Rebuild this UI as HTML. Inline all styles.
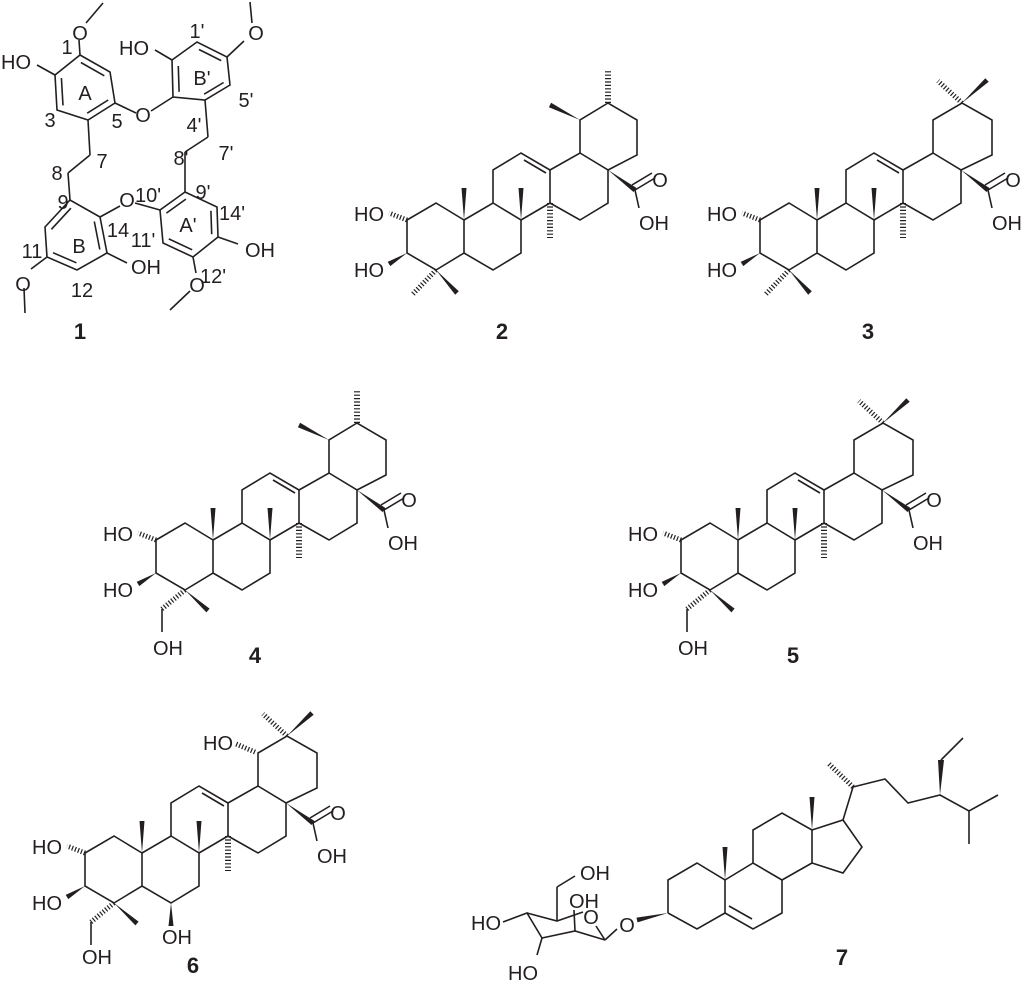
<!DOCTYPE html>
<html><head><meta charset="utf-8"><style>
html,body{margin:0;padding:0;background:#fff;}
svg{display:block;}
text{font-family:"Liberation Sans",sans-serif;fill:#231f20;}
.a{font-size:20px;text-anchor:middle;}
.n{font-size:22px;font-weight:bold;text-anchor:middle;}
</style></head><body>
<svg width="1029" height="982" viewBox="0 0 1029 982" xmlns="http://www.w3.org/2000/svg">
<defs>
<g id="core" stroke="#231f20" stroke-width="1.6" fill="none">
<polyline points="464,220 436,203 407,220 407,253 436,270 464,253 464,220 493,203 521,220 521,253 493,270 464,253"/>
<polyline points="493,203 493,170 521,153 550,170 550,203 521,220"/>
<line x1="524" y1="160" x2="546" y2="173"/>
<polyline points="550,170 580,153 608,170 608,203 580,220 550,203"/>
<line x1="407" y1="220" x2="389" y2="213" stroke-width="5" stroke-dasharray="1.2 2"/>
<line x1="550" y1="203" x2="550" y2="238" stroke-width="6" stroke-dasharray="1.2 2.2"/>
<line x1="635" y1="190" x2="655" y2="178"/>
<line x1="632" y1="185" x2="652" y2="173"/>
<line x1="635" y1="190" x2="639" y2="208"/>
<g fill="#231f20" stroke="none">
<polygon points="464,220 461.5,188 466.5,188"/>
<polygon points="521,220 518.5,188 523.5,188"/>
<polygon points="407,253 387.7,261.9 390.3,266.1"/>
<polygon points="608,170 633.5,192 636.5,188"/>
</g>
</g>
<g id="eU" stroke="#231f20" stroke-width="1.6" fill="none">
<polyline points="580,153 580,120 608,103 637,120 637,155 608,170"/>
<line x1="608" y1="103" x2="608" y2="71" stroke-width="6" stroke-dasharray="1.2 2.2"/>
<polygon fill="#231f20" stroke="none" points="580,120 551.1,102.8 548.9,107.2"/>
</g>
<g id="eO" stroke="#231f20" stroke-width="1.6" fill="none">
<polyline points="580,153 580,120 609,103 639,120 639,155 608,170"/>
<line x1="609" y1="103" x2="585" y2="81" stroke-width="5" stroke-dasharray="1.2 2"/>
<polygon fill="#231f20" stroke="none" points="609,103 635.7,81.8 632.3,78.2"/>
</g>
<g id="c4me" stroke="#231f20" stroke-width="1.6" fill="none">
<line x1="436" y1="270" x2="412" y2="295" stroke-width="5" stroke-dasharray="1.2 2"/>
<polygon fill="#231f20" stroke="none" points="436,270 458.8,291.3 455.2,294.7"/>
</g>
<g id="c4oh" stroke="#231f20" stroke-width="1.6" fill="none">
<line x1="436" y1="270" x2="413" y2="289" stroke-width="5" stroke-dasharray="1.2 2"/>
<line x1="413" y1="289" x2="413" y2="312"/>
<polygon fill="#231f20" stroke="none" points="436,270 460.6,288.6 457.4,292.4"/>
</g>
</defs>

<!-- Compound 1 -->
<g stroke="#231f20" stroke-width="1.6" fill="none">
<polygon points="80,55 110,72 115,103 88,120 57,110 55,75"/>
<line x1="80.9" y1="62.5" x2="104.3" y2="75.8"/><line x1="108.2" y1="100" x2="87.2" y2="113.2"/><line x1="63" y1="105.4" x2="61.4" y2="78.1"/>
<polygon points="173,97 172,60 197,42 227,57 230,85 205,100"/>
<line x1="179.1" y1="91.8" x2="178.3" y2="66"/><line x1="199" y1="49.5" x2="221.2" y2="60.6"/><line x1="223.6" y1="82.5" x2="204.1" y2="94.2"/>
<polygon points="185,192 217,207 218,237 193,257 163,243 160,210"/>
<line x1="166.4" y1="213.1" x2="185.9" y2="199.1"/><line x1="210.9" y1="210.8" x2="211.7" y2="234.2"/><line x1="192.2" y1="249.8" x2="168.8" y2="238.9"/>
<polygon points="100,217 70,200 45,227 47,257 77,270 107,253"/>
<line x1="70.9" y1="208.2" x2="51.4" y2="229.3"/><line x1="53" y1="252.7" x2="76.4" y2="262.8"/><line x1="99.8" y1="249.5" x2="94.3" y2="221.5"/>
<line x1="80" y1="55" x2="79" y2="40"/><line x1="86" y1="23" x2="103" y2="3"/>
<line x1="55" y1="75" x2="37" y2="65"/>
<line x1="115" y1="103" x2="136" y2="113"/><line x1="151" y1="111" x2="173" y2="97"/>
<line x1="172" y1="60" x2="155" y2="50"/>
<line x1="227" y1="57" x2="244" y2="41"/><line x1="252" y1="23" x2="250" y2="2"/>
<line x1="205" y1="100" x2="208" y2="137"/><line x1="208" y1="137" x2="185" y2="152"/><line x1="185" y1="152" x2="185" y2="192"/>
<line x1="88" y1="120" x2="90" y2="155"/><line x1="90" y1="155" x2="68" y2="173"/><line x1="68" y1="173" x2="70" y2="200"/>
<line x1="100" y1="217" x2="120" y2="206"/><line x1="135" y1="203" x2="160" y2="210"/>
<line x1="218" y1="237" x2="238" y2="244"/>
<line x1="107" y1="253" x2="127" y2="263"/>
<line x1="193" y1="257" x2="196" y2="273"/><line x1="190" y1="291" x2="170" y2="310"/>
<line x1="47" y1="257" x2="31" y2="269"/><line x1="24" y1="288" x2="25" y2="313"/>
</g>
<g class="a">
<text x="80" y="40">O</text>
<text x="16" y="69">HO</text>
<text x="143" y="122">O</text>
<text x="134" y="55">HO</text>
<text x="256" y="40">O</text>
<text x="127" y="207">O</text>
<text x="260" y="257">OH</text>
<text x="146" y="274">OH</text>
<text x="197" y="292">O</text>
<text x="23" y="291">O</text>
<text x="67" y="54">1</text><text x="85" y="100">A</text><text x="50" y="127">3</text><text x="117" y="128">5</text>
<text x="102" y="168">7</text><text x="57" y="180">8</text><text x="63" y="209">9</text><text x="79" y="253">B</text>
<text x="118" y="237">14</text><text x="32" y="258">11</text><text x="82" y="297">12</text>
<text x="197" y="38">1'</text><text x="202" y="85">B'</text><text x="246" y="107">5'</text><text x="194" y="132">4'</text>
<text x="226" y="160">7'</text><text x="181" y="165">8'</text><text x="203" y="199">9'</text><text x="148" y="202">10'</text>
<text x="232" y="220">14'</text><text x="188" y="232">A'</text><text x="143" y="247">11'</text><text x="213" y="283">12'</text>
</g>
<text class="n" x="80" y="339">1</text>

<!-- Compound 2 -->
<use href="#core"/><use href="#eU"/><use href="#c4me"/>
<g class="a"><text x="369" y="221">HO</text><text x="369" y="277">HO</text><text x="660" y="187">O</text><text x="654" y="230">OH</text></g>
<text class="n" x="502" y="339">2</text>

<!-- Compound 3 -->
<g transform="translate(353,0)"><use href="#core"/><use href="#eO"/><use href="#c4me"/>
<g class="a"><text x="369" y="221">HO</text><text x="369" y="277">HO</text><text x="660" y="187">O</text><text x="654" y="230">OH</text></g></g>
<text class="n" x="868" y="339">3</text>

<!-- Compound 4 -->
<g transform="translate(-251,320)"><use href="#core"/><use href="#eU"/><use href="#c4oh"/>
<g class="a"><text x="369" y="221">HO</text><text x="369" y="277">HO</text><text x="660" y="187">O</text><text x="654" y="230">OH</text><text x="419" y="335">OH</text></g></g>
<text class="n" x="255" y="663">4</text>

<!-- Compound 5 -->
<g transform="translate(274,320)"><use href="#core"/><use href="#eO"/><use href="#c4oh"/>
<g class="a"><text x="369" y="221">HO</text><text x="369" y="277">HO</text><text x="660" y="187">O</text><text x="654" y="230">OH</text><text x="419" y="335">OH</text></g></g>
<text class="n" x="793" y="663">5</text>

<!-- Compound 6 -->
<g transform="translate(-322,633)"><use href="#core"/><use href="#eO"/><use href="#c4oh"/>
<line x1="577" y1="119" x2="558" y2="111" stroke="#231f20" stroke-width="5" stroke-dasharray="1.2 2"/>
<polygon fill="#231f20" points="493,270 490.5,293 495.5,293"/>
<g class="a"><text x="369" y="221">HO</text><text x="369" y="277">HO</text><text x="660" y="187">O</text><text x="654" y="230">OH</text><text x="419" y="331">OH</text><text x="540" y="117">HO</text><text x="499" y="311">OH</text></g></g>
<text class="n" x="193" y="973">6</text>

<!-- Compound 7 -->
<g stroke="#231f20" stroke-width="1.6" fill="none">
<polyline points="668,913 668,880 697,863 725,880 725,913 697,929 668,913"/>
<polyline points="725,913 753,929 782,913 782,880 753,863 725,880"/>
<line x1="729" y1="906" x2="752" y2="919"/>
<polyline points="753,863 753,830 782,813 812,830 812,863 782,880"/>
<polyline points="812,830 843,820 862,847 843,873 812,863"/>
<polyline points="843,820 853,787 885,779 908,803 940,795 969,811 998,795"/>
<line x1="969" y1="811" x2="969" y2="844"/>
<line x1="941" y1="760" x2="963" y2="738"/>
<line x1="853" y1="787" x2="828" y2="763" stroke-width="5" stroke-dasharray="1.2 2"/>
<polyline points="503,922 527,913 542,938 575,931 605,940"/>
<polyline points="527,913 557,921 583,912"/>
<line x1="605" y1="940" x2="596" y2="926"/>
<line x1="605" y1="940" x2="617" y2="929"/>
<line x1="542" y1="938" x2="537" y2="955"/>
<line x1="557" y1="921" x2="557" y2="887"/><line x1="557" y1="887" x2="575" y2="876"/>
<line x1="575" y1="931" x2="574" y2="910"/>
</g>
<g fill="#231f20">
<polygon points="725,880 722.5,847 727.5,847"/>
<polygon points="812,830 809.5,797 814.5,797"/>
<polygon points="668,913 636.5,917.6 637.5,922.4"/>
<polygon points="940,795 938,760 944,760"/>
</g>
<g class="a">
<text x="486" y="930">HO</text><text x="523" y="980">HO</text><text x="595" y="880">OH</text>
<text x="584" y="908">OH</text><text x="591" y="924">O</text><text x="627" y="932">O</text>
</g>
<text class="n" x="842" y="965">7</text>
</svg>
</body></html>
